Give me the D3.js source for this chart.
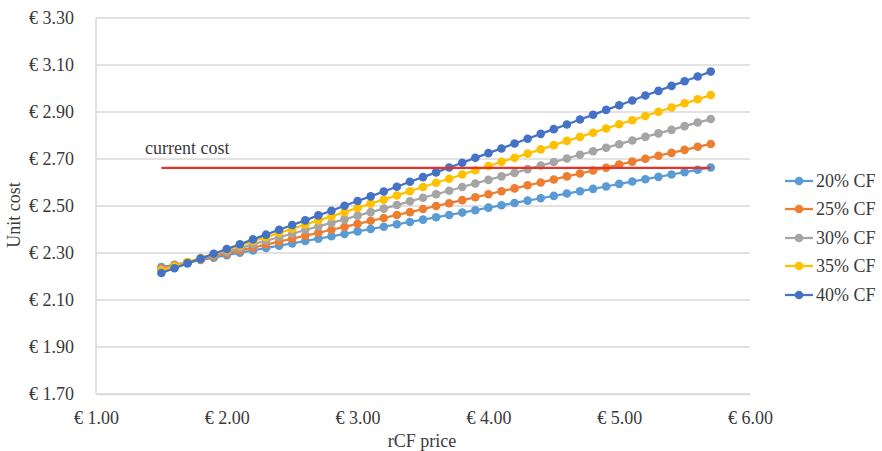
<!DOCTYPE html>
<html>
<head>
<meta charset="utf-8">
<script src="https://cdn.jsdelivr.net/npm/d3@7"></script>
<style>
body{margin:0;background:#fff;}
svg text{font-family:"Liberation Serif","Times New Roman",serif !important;fill:#3a3a3a;}
</style>
</head>
<body>
<svg id="chart" width="882" height="451"></svg>
<script>
const prices = [1.5,1.6,1.7,1.8,1.9,2.0,2.1,2.2,2.3,2.4,2.5,2.6,2.7,2.8,2.9,3.0,3.1,3.2,3.3,3.4,3.5,3.6,3.7,3.8,3.9,4.0,4.1,4.2,4.3,4.4,4.5,4.6,4.7,4.8,4.9,5.0,5.1,5.2,5.3,5.4,5.5,5.6,5.7];
const seriesNames = ["20% CF","25% CF","30% CF","35% CF","40% CF"];
const seriesColors = ["#5B9BD5","#ED7D31","#A5A5A5","#FFC000","#4472C4"];
const cf20 = [2.240,2.250,2.260,2.270,2.280,2.291,2.301,2.311,2.321,2.331,2.341,2.351,2.361,2.371,2.381,2.392,2.402,2.412,2.422,2.432,2.442,2.452,2.462,2.472,2.482,2.493,2.503,2.513,2.523,2.533,2.543,2.553,2.563,2.573,2.583,2.594,2.604,2.614,2.624,2.634,2.644,2.654,2.664];
const cf25 = [2.235,2.248,2.260,2.273,2.285,2.298,2.311,2.323,2.336,2.348,2.361,2.374,2.386,2.399,2.411,2.424,2.437,2.449,2.462,2.474,2.487,2.500,2.512,2.525,2.537,2.550,2.563,2.575,2.588,2.600,2.613,2.626,2.638,2.651,2.663,2.676,2.689,2.701,2.714,2.726,2.739,2.752,2.764];
const cf30 = [2.230,2.245,2.260,2.276,2.291,2.306,2.321,2.337,2.352,2.367,2.382,2.398,2.413,2.428,2.443,2.459,2.474,2.489,2.504,2.520,2.535,2.550,2.565,2.581,2.596,2.611,2.626,2.641,2.657,2.672,2.687,2.702,2.718,2.733,2.748,2.763,2.779,2.794,2.809,2.824,2.840,2.855,2.870];
const cf35 = [2.225,2.243,2.261,2.278,2.296,2.314,2.332,2.350,2.367,2.385,2.403,2.421,2.439,2.456,2.474,2.492,2.510,2.527,2.545,2.563,2.581,2.599,2.616,2.634,2.652,2.670,2.688,2.705,2.723,2.741,2.759,2.777,2.794,2.812,2.830,2.848,2.865,2.883,2.901,2.919,2.937,2.954,2.972];
const cf40 = [2.215,2.235,2.256,2.276,2.297,2.317,2.337,2.358,2.378,2.399,2.419,2.439,2.460,2.480,2.501,2.521,2.541,2.562,2.582,2.603,2.623,2.643,2.664,2.684,2.705,2.725,2.745,2.766,2.786,2.807,2.827,2.847,2.868,2.888,2.909,2.929,2.949,2.970,2.990,3.011,3.031,3.051,3.072];
const currentCostX = [1.5,5.7];
const currentCost = 2.662;
const xTicks = [1,2,3,4,5,6];
const yTicks = [1.7,1.9,2.1,2.3,2.5,2.7,2.9,3.1,3.3];

const seriesValues = [cf20,cf25,cf30,cf35,cf40];
const svg = d3.select("#chart");
const x = d3.scaleLinear().domain([1,6]).range([96,750]);
const y = d3.scaleLinear().domain([1.7,3.3]).range([394,18]);
const FS = "18px";

svg.append("g").selectAll("line").data(yTicks).join("line")
  .attr("x1",x(1)).attr("x2",x(6))
  .attr("y1",d=>y(d)).attr("y2",d=>y(d))
  .attr("stroke","#D9D9D9").attr("stroke-width",1.5);
svg.append("line").attr("x1",x(1)).attr("x2",x(1)).attr("y1",y(3.3)).attr("y2",y(1.7))
  .attr("stroke","#D9D9D9").attr("stroke-width",1.5);

const yAxis = d3.axisLeft(y).tickValues(yTicks).tickSize(0).tickPadding(22)
  .tickFormat(d=>"€ "+d3.format(".2f")(d));
const gy = svg.append("g").attr("transform",`translate(${x(1)},0)`).call(yAxis);
gy.attr("font-family",null).attr("font-size",null);
gy.select(".domain").remove();
gy.selectAll("text").style("font-size",FS);

const xAxis = d3.axisBottom(x).tickValues(xTicks).tickSize(0).tickPadding(17)
  .tickFormat(d=>"€ "+d3.format(".2f")(d));
const gx = svg.append("g").attr("transform",`translate(0,${y(1.7)})`).call(xAxis);
gx.attr("font-family",null).attr("font-size",null);
gx.select(".domain").attr("stroke","#D9D9D9").attr("stroke-width",1.5);
gx.selectAll("text").style("font-size",FS);

svg.append("text").attr("x",422).attr("y",447).attr("text-anchor","middle")
  .style("font-size",FS).text("rCF price");
svg.append("text").attr("transform","translate(20,215) rotate(-90)").attr("text-anchor","middle")
  .style("font-size",FS).text("Unit cost");

const line = d3.line().x((d,i)=>x(prices[i])).y(d=>y(d));
seriesValues.forEach((vals,si)=>{
  const g = svg.append("g");
  g.append("path").attr("d",line(vals)).attr("fill","none")
    .attr("stroke",seriesColors[si]).attr("stroke-width",2.25);
  g.selectAll("circle").data(vals).join("circle")
    .attr("cx",(d,i)=>x(prices[i])).attr("cy",d=>y(d)).attr("r",4.3)
    .attr("fill",seriesColors[si]);
});

svg.append("line").attr("x1",x(currentCostX[0])).attr("x2",x(currentCostX[1]))
  .attr("y1",y(currentCost)).attr("y2",y(currentCost))
  .attr("stroke","#E3342B").attr("stroke-width",2.25);
svg.append("text").attr("x",145).attr("y",154).style("font-size",FS).text("current cost");

const legendY = [181,209,238,266,295];
const lg = svg.append("g");
seriesNames.forEach((n,i)=>{
  lg.append("line").attr("x1",785).attr("x2",813).attr("y1",legendY[i]).attr("y2",legendY[i])
    .attr("stroke",seriesColors[i]).attr("stroke-width",2.25);
  lg.append("circle").attr("cx",799).attr("cy",legendY[i]).attr("r",4.3).attr("fill",seriesColors[i]);
  lg.append("text").attr("x",816).attr("y",legendY[i]).attr("dy","0.35em")
    .style("font-size",FS).text(n);
});
</script>
</body>
</html>
